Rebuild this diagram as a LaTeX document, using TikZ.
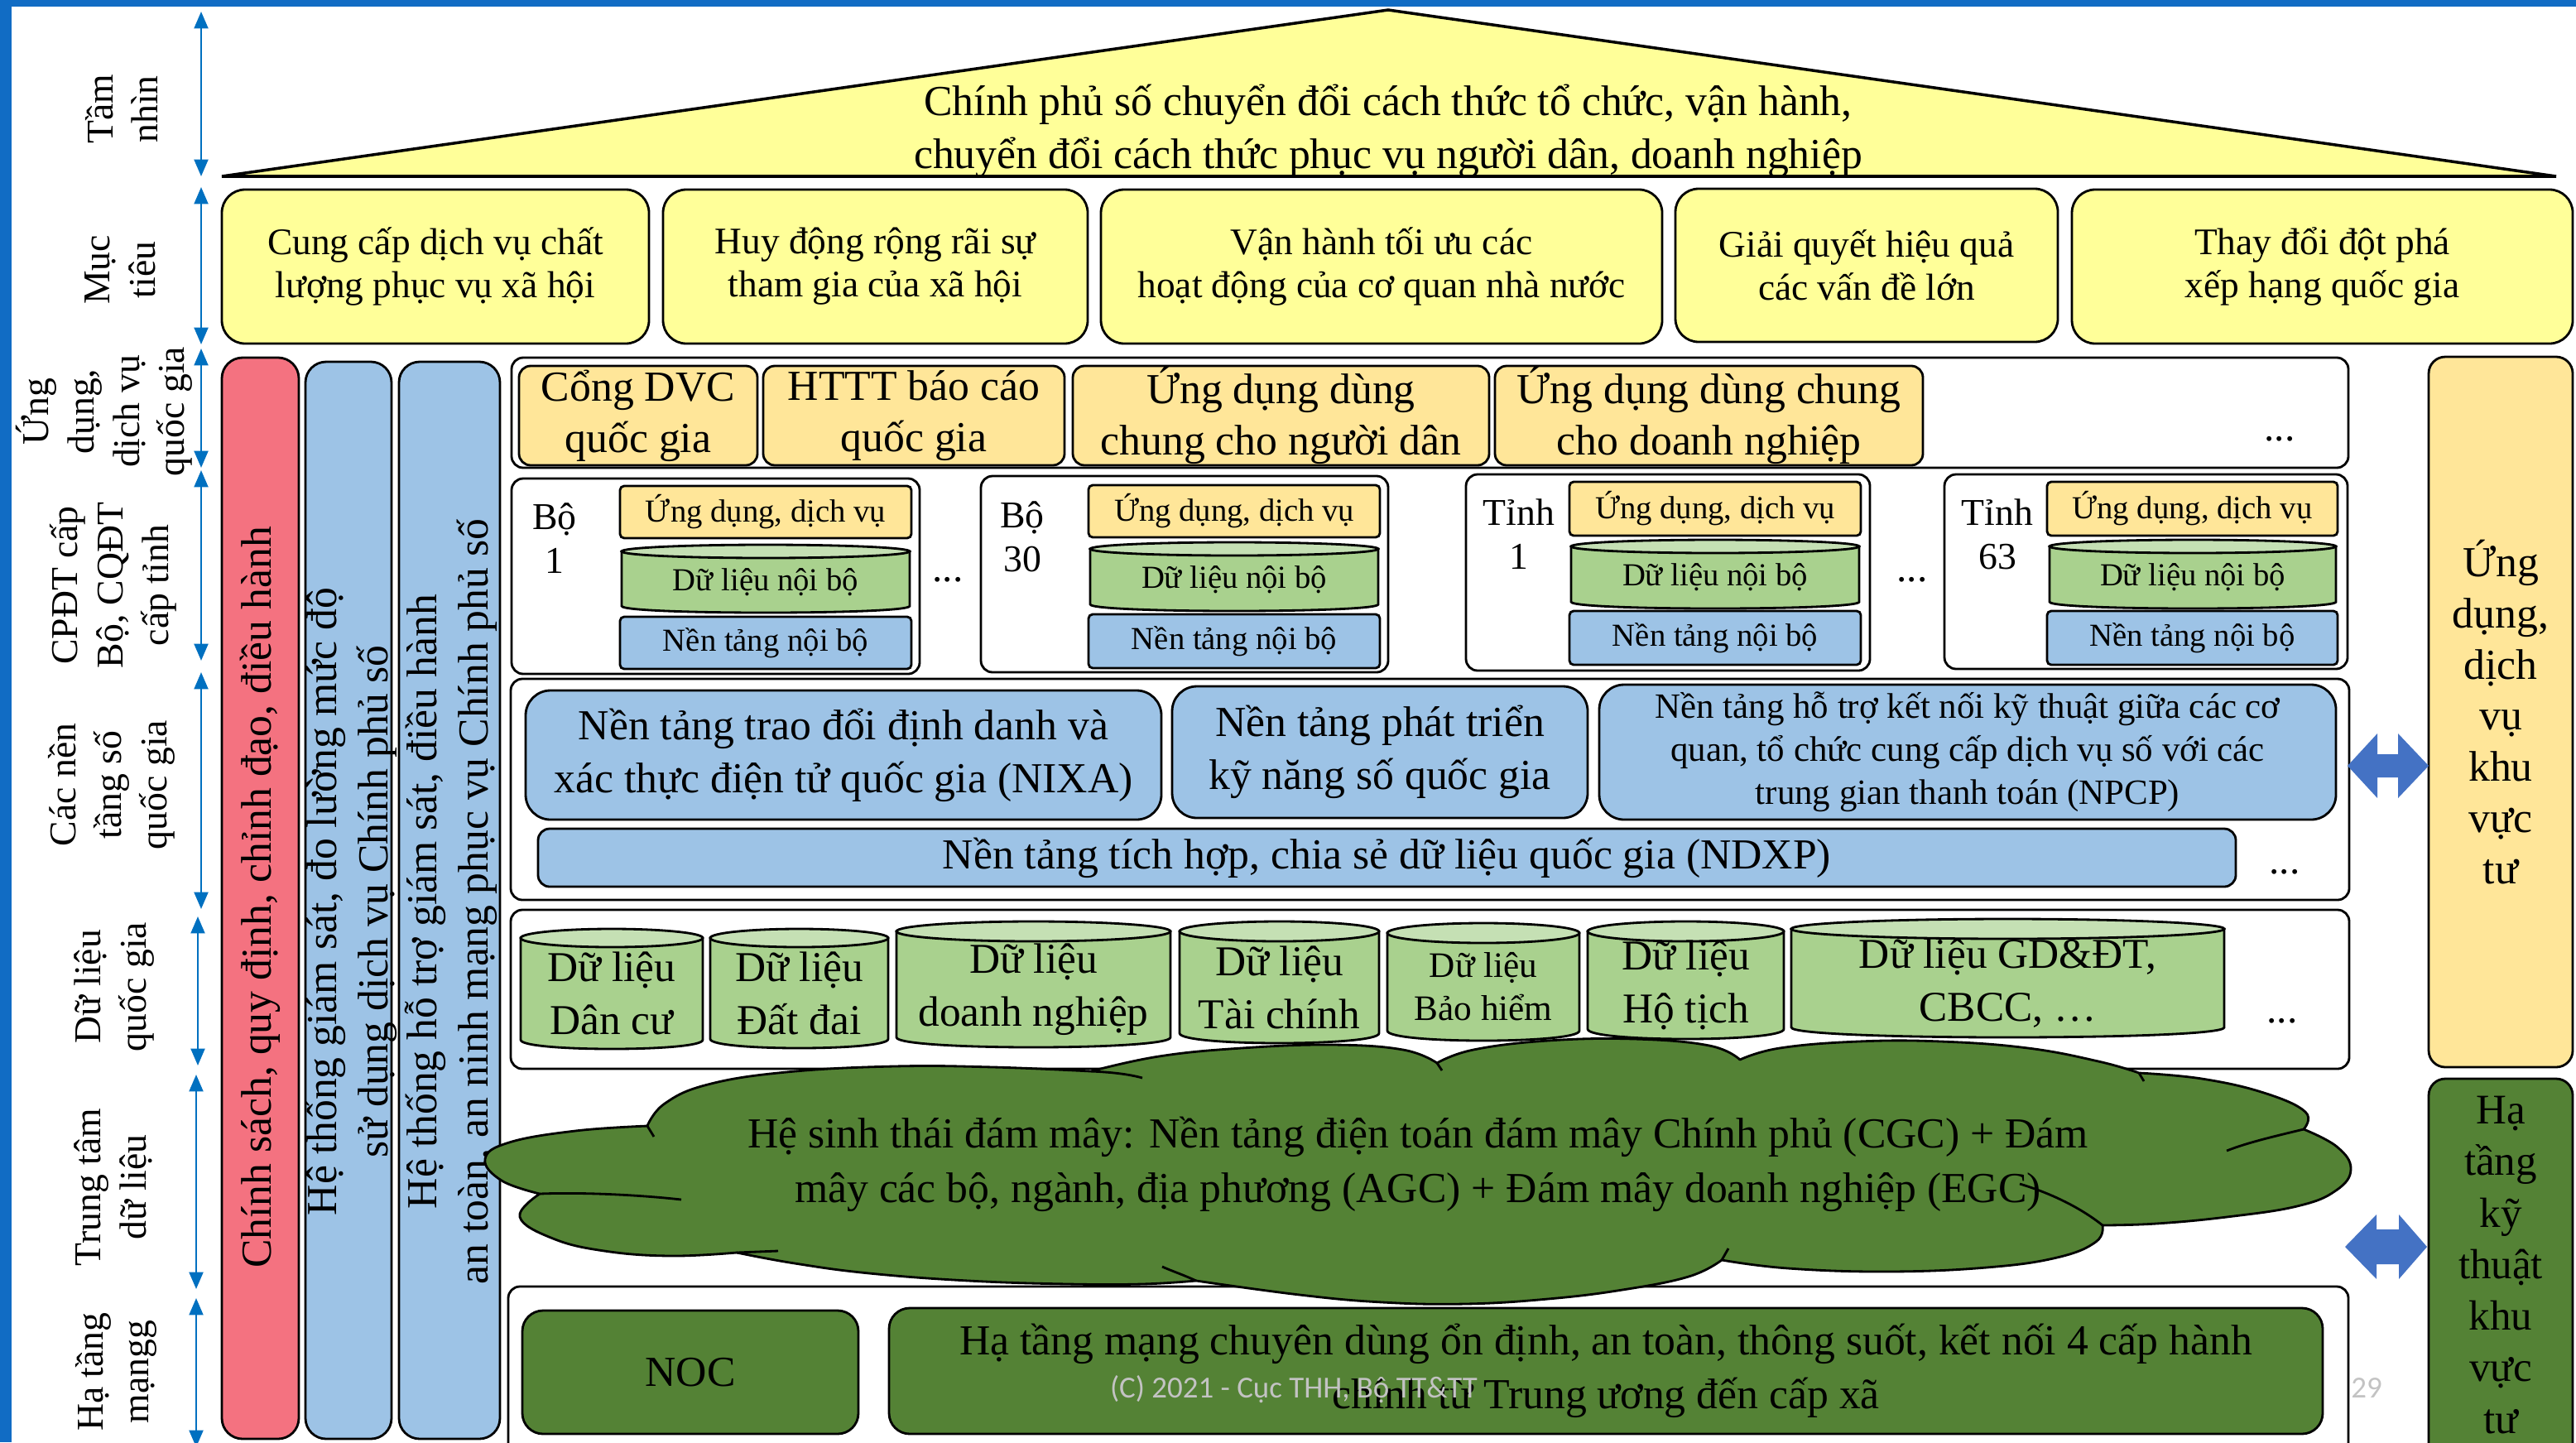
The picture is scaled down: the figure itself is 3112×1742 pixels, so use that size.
\documentclass[tikz,border=0pt]{standalone}
\usepackage{fontspec}
\setmainfont{Liberation Serif}
\newfontfamily\wmfont{Carlito}
\usetikzlibrary{arrows.meta}
\definecolor{frameblue}{RGB}{17,108,196}
\definecolor{arrowblue}{RGB}{0,112,192}
\definecolor{visionyellow}{RGB}{255,255,153}
\definecolor{appyellow}{RGB}{255,230,153}
\definecolor{policyred}{RGB}{244,114,128}
\definecolor{platblue}{RGB}{157,195,230}
\definecolor{datagreen}{RGB}{169,209,142}
\definecolor{datatop}{RGB}{197,224,180}
\definecolor{infragreen}{RGB}{84,130,53}
\definecolor{linkblue}{RGB}{68,114,196}
\definecolor{markgray}{RGB}{195,195,195}

\newcommand\fs[2]{\fontsize{#1}{#2}\selectfont}
% box node from its corner coordinates: name, style, x1, y1, x2, y2, text
\newcommand\boxnode[7]{\node[#2, minimum width={(#5-#3)*0.01cm}, minimum height={(#6-#4)*0.01cm}] (#1) at ({(#3+#5)/2},{(#4+#6)/2}) {#7};}
% database cylinder: name, x1, y1, x2, y2, end radius, font, text
\newcommand\cylnode[8]{%
  \path[cylbody] (#2,{#3+#6}) -- (#2,{#5-#6}) .. controls (#2,{#5+#6/3}) and (#4,{#5+#6/3}) .. (#4,{#5-#6}) -- (#4,{#3+#6}) -- cycle;
  \path[cyltop] ({(#2+#4)/2},{#3+#6}) ellipse [x radius={(#4-#2)/2}, y radius=#6];
  \node[font=#7, align=center, inner sep=0pt] (#1) at ({(#2+#4)/2},{(#3+#6+#5)/2}) {#8};}

\begin{document}
\begin{tikzpicture}[x=0.01cm, y=-0.01cm,
  sidearrow/.style={draw=arrowblue, line width=0.7pt, arrows={Triangle[width=4.8pt,length=5.8pt]-Triangle[width=4.8pt,length=5.8pt]}},
  sidelabel/.style={rotate=90, align=center, font=\fs{13}{15.6}, inner sep=0pt},
  house/.style={fill=visionyellow, draw=black, line width=1pt, line join=miter},
  rbox/.style={draw=black, line width=0.8pt, inner sep=0pt, outer sep=0pt, align=center},
  goal/.style={rbox, fill=visionyellow, rounded corners=0.28cm, font=\fs{12.9}{14.8}},
  panel/.style={rbox, fill=white, rounded corners=0.14cm},
  appbox/.style={rbox, fill=appyellow, rounded corners=0.14cm, font=\fs{14.7}{17.6}},
  smallapp/.style={rbox, fill=appyellow, rounded corners=0.05cm, font=\fs{11}{13}},
  smallplat/.style={rbox, fill=platblue, rounded corners=0.05cm, font=\fs{11}{13}},
  platbox/.style={rbox, fill=platblue, rounded corners=0.3cm, font=\fs{14.7}{18.2}},
  netbox/.style={rbox, fill=infragreen, rounded corners=0.25cm, font=\fs{14.7}{18.5}},
  redbar/.style={rbox, fill=policyred, rounded corners=0.25cm},
  bluebar/.style={rbox, fill=platblue, rounded corners=0.25cm},
  bartext/.style={rotate=90, align=center, inner sep=0pt, font=\fs{14.7}{17.6}},
  unitlabel/.style={align=center, inner sep=0pt, font=\fs{13}{15}},
  ellip/.style={inner sep=0pt, font=\fs{14}{16}},
  cylbody/.style={fill=datagreen, draw=black, line width=0.8pt},
  cyltop/.style={fill=datatop, draw=black, line width=0.8pt},
  cloudfill/.style={fill=infragreen, draw=black, line width=0.8pt, line join=round},
  cloudline/.style={draw=black, line width=0.8pt},
  dblarrow/.style={fill=linkblue},
  wmark/.style={font=\wmfont\fs{10.5}{12}, text=markgray, inner sep=0pt}]

\useasboundingbox (0,0) rectangle (3112,1742);
\clip (0,0) rectangle (3112,1742);

% slide frame
\fill[frameblue] (0,0) rectangle (3112,8);
\fill[frameblue] (0,0) rectangle (14,1742);

% layer arrows on the left
\foreach \xa/\ta/\ba [count=\i] in {243/14/213, 243/226/416, 243/421/565, 243/568/798, 243/812/1098, 239/1107/1287, 237/1298/1557, 237/1568/1748}{
  \coordinate (ar\i t) at (\xa,\ta);
  \coordinate (ar\i b) at (\xa,\ba);
  \draw[sidearrow] (ar\i t) -- (ar\i b);
}

% layer names
\node[sidelabel] (lVision) at (147,132) {Tầm\\nhìn};
\node[sidelabel] (lGoal) at (145,326) {Mục\\tiêu};
\node[sidelabel] (lNatApp) at (126,497) {Ứng\\dụng,\\dịch vụ\\quốc gia};
\node[sidelabel] (lMin) at (137,707) {CPĐT cấp\\Bộ, CQĐT\\cấp tỉnh};
\node[sidelabel] (lPlat) at (135,948) {Các nền\\tầng số\\quốc gia};
\node[sidelabel] (lData) at (138,1192) {Dữ liệu\\quốc gia};
\node[sidelabel] (lDC) at (137,1434) {Trung tâm\\dữ liệu};
\node[sidelabel] (lNet) at (140,1657) {Hạ tầng\\mạngg};

% vision roof
\coordinate (hLeft) at (268,213);
\coordinate (hApex) at (1677,12);
\coordinate (hRight) at (3088,213);
\path[house] (hLeft) -- (hApex) -- (hRight) -- cycle;
\node[align=center, inner sep=0pt, font=\fs{14.7}{18.2}] (vision) at (1677,158)
  {Chính phủ số chuyển đổi cách thức tổ chức, vận hành,\\chuyển đổi cách thức phục vụ người dân, doanh nghiệp};

% goals
\boxnode{g1}{goal}{268}{229}{784}{415}{Cung cấp dịch vụ chất\\lượng phục vụ xã hội}
\boxnode{g2}{goal}{801}{229}{1314}{415}{Huy động rộng rãi sự\\tham gia của xã hội}
\boxnode{g3}{goal}{1330}{229}{2008}{415}{Vận hành tối ưu các\\hoạt động của cơ quan nhà nước}
\boxnode{g4}{goal}{2024}{228}{2486}{413}{Giải quyết hiệu quả\\các vấn đề lớn}
\boxnode{g5}{goal}{2503}{229}{3108}{415}{Thay đổi đột phá\\xếp hạng quốc gia}

% cross-cutting pillars
\boxnode{polBar}{redbar}{268}{432}{361}{1738}{}
\boxnode{monBar}{bluebar}{369}{437}{473}{1738}{}
\boxnode{supBar}{bluebar}{482}{437}{604}{1738}{}
\node[bartext] (polText) at (314,1084) {Chính sách, quy định, chỉnh đạo, điều hành};
\node[bartext] (monText) at (424,1089) {Hệ thống giám sát, đo lường mức độ\\sử dụng dịch vụ Chính phủ số};
\node[bartext] (supText) at (545,1089) {Hệ thống hỗ trợ giám sát, điều hành\\an toàn, an ninh mạng phục vụ Chính phủ số};

% national applications
\boxnode{pApp}{panel}{618}{432}{2837}{565}{}
\boxnode{a1}{appbox}{627}{442}{915}{562}{Cổng DVC\\quốc gia}
\boxnode{a2}{appbox}{922}{442}{1286}{562}{HTTT báo cáo\\quốc gia}
\boxnode{a3}{appbox}{1296}{442}{1799}{562}{Ứng dụng dùng\\chung cho người dân}
\boxnode{a4}{appbox}{1806}{442}{2323}{562}{Ứng dụng dùng chung\\cho doanh nghiệp}
\node[ellip] (aMore) at (2754,530) {...};

% ministries and provinces
\boxnode{s1}{panel}{618}{578}{1111}{814}{}
\node[unitlabel] (s1Name) at (670,650) {Bộ\\1};
\boxnode{s1App}{smallapp}{749}{587}{1101}{650}{Ứng dụng, dịch vụ}
\cylnode{s1Data}{751}{658}{1099}{740}{8}{\fs{11}{13}}{Dữ liệu nội bộ}
\boxnode{s1Plat}{smallplat}{749}{745}{1101}{808}{Nền tảng nội bộ}
\node[ellip] (sMoreA) at (1145,700) {...};

\boxnode{s2}{panel}{1185}{575}{1677}{812}{}
\node[unitlabel] (s2Name) at (1235,648) {Bộ\\30};
\boxnode{s2App}{smallapp}{1315}{586}{1667}{649}{Ứng dụng, dịch vụ}
\cylnode{s2Data}{1317}{655}{1665}{738}{8}{\fs{11}{13}}{Dữ liệu nội bộ}
\boxnode{s2Plat}{smallplat}{1315}{742}{1667}{807}{Nền tảng nội bộ}

\boxnode{s3}{panel}{1771}{573}{2259}{810}{}
\node[unitlabel] (s3Name) at (1835,645) {Tỉnh\\1};
\boxnode{s3App}{smallapp}{1896}{582}{2248}{647}{Ứng dụng, dịch vụ}
\cylnode{s3Data}{1898}{652}{2246}{735}{8}{\fs{11}{13}}{Dữ liệu nội bộ}
\boxnode{s3Plat}{smallplat}{1896}{738}{2248}{803}{Nền tảng nội bộ}
\node[ellip] (sMoreB) at (2310,700) {...};

\boxnode{s4}{panel}{2349}{573}{2836}{808}{}
\node[unitlabel] (s4Name) at (2413,645) {Tỉnh\\63};
\boxnode{s4App}{smallapp}{2473}{582}{2824}{647}{Ứng dụng, dịch vụ}
\cylnode{s4Data}{2476}{652}{2822}{735}{8}{\fs{11}{13}}{Dữ liệu nội bộ}
\boxnode{s4Plat}{smallplat}{2473}{738}{2824}{803}{Nền tảng nội bộ}

% national platforms
\boxnode{pPlat}{panel}{617}{820}{2838}{1087}{}
\boxnode{nixa}{platbox}{635}{834}{1403}{990}{Nền tảng trao đổi định danh và\\xác thực điện tử quốc gia (NIXA)}
\boxnode{skill}{platbox}{1416}{829}{1918}{988}{Nền tảng phát triển\\kỹ năng số quốc gia}
\boxnode{npcp}{platbox, font=\fs{12.2}{14.8}}{1932}{827}{2822}{990}{Nền tảng hỗ trợ kết nối kỹ thuật giữa các cơ\\quan, tổ chức cung cấp dịch vụ số với các\\trung gian thanh toán (NPCP)}
\boxnode{ndxp}{platbox, rounded corners=0.14cm}{650}{1001}{2701}{1071}{Nền tảng tích hợp, chia sẻ dữ liệu quốc gia (NDXP)}
\node[ellip] (pMore) at (2760,1053) {...};

% national databases
\boxnode{pData}{panel}{617}{1099}{2838}{1291}{}
\cylnode{d1}{629}{1122}{849}{1267}{11}{\fs{14.6}{18.2}}{Dữ liệu\\Dân cư}
\cylnode{d2}{858}{1122}{1073}{1266}{11}{\fs{14.6}{18.2}}{Dữ liệu\\Đất đai}
\cylnode{d3}{1083}{1113}{1414}{1265}{12}{\fs{14.6}{18.2}}{Dữ liệu\\doanh nghiệp}
\cylnode{d4}{1425}{1113}{1666}{1260}{12}{\fs{14.6}{18.2}}{Dữ liệu\\Tài chính}
\cylnode{d5}{1676}{1115}{1908}{1257}{12}{\fs{12.3}{14.8}}{Dữ liệu\\Bảo hiểm}
\cylnode{d6}{1918}{1113}{2155}{1255}{12}{\fs{14.6}{18.2}}{Dữ liệu\\Hộ tịch}
\cylnode{d7}{2164}{1110}{2687}{1253}{12}{\fs{14.6}{18.2}}{Dữ liệu GD\&ĐT,\\CBCC, …}
\node[ellip] (dMore) at (2757,1233) {...};

% network infrastructure
\boxnode{pNet}{panel}{614}{1554}{2837}{1800}{}
\boxnode{noc}{netbox}{631}{1583}{1037}{1732}{NOC}
\boxnode{net}{netbox}{1074}{1580}{2806}{1732}{Hạ tầng mạng chuyên dùng ổn định, an toàn, thông suốt, kết nối 4 cấp hành\\chính từ Trung ương đến cấp xã}

% cloud ecosystem
\path[cloudfill]
  plot[smooth, tension=0.7] coordinates {(652,1442) (606,1426) (586,1400) (615,1380) (695,1366) (782,1360)}
  -- plot[smooth, tension=0.7] coordinates {(782,1360) (803,1333) (855,1310) (950,1295) (1080,1288) (1200,1289) (1318,1294)}
  -- plot[smooth, tension=0.7] coordinates {(1318,1294) (1400,1276) (1500,1266) (1610,1262) (1695,1268) (1736,1284)}
  -- plot[smooth, tension=0.7] coordinates {(1736,1284) (1780,1268) (1870,1257) (1975,1255) (2065,1263) (2102,1280)}
  -- plot[smooth, tension=0.7] coordinates {(2102,1280) (2150,1266) (2245,1258) (2345,1258) (2450,1266) (2535,1282) (2584,1296)}
  -- plot[smooth, tension=0.7] coordinates {(2584,1296) (2660,1303) (2735,1320) (2785,1343) (2783,1364)}
  -- plot[smooth, tension=0.7] coordinates {(2783,1364) (2823,1385) (2840,1412) (2822,1438) (2775,1457) (2690,1470) (2605,1478) (2540,1480)}
  -- plot[smooth, tension=0.7] coordinates {(2540,1480) (2532,1500) (2485,1519) (2400,1531) (2280,1536) (2160,1532) (2080,1522)}
  -- plot[smooth, tension=0.7] coordinates {(2080,1522) (2040,1542) (1960,1558) (1870,1569) (1770,1575) (1670,1573) (1570,1564) (1445,1547)}
  -- plot[smooth, tension=0.7] coordinates {(1445,1547) (1380,1551) (1290,1551) (1170,1547) (1050,1538) (960,1526) (890,1513)}
  -- plot[smooth, tension=0.7] coordinates {(890,1513) (810,1517) (730,1511) (668,1496) (628,1470) (652,1442)}
  -- cycle;
\draw[cloudline] (652,1442) .. controls (700,1440) and (770,1443) .. (823,1449);
\draw[cloudline] (782,1360) -- (790,1373);
\draw[cloudline] (1318,1294) .. controls (1340,1295) and (1362,1297) .. (1380,1302);
\draw[cloudline] (1736,1284) -- (1742,1293);
\draw[cloudline] (2584,1296) -- (2590,1306);
\draw[cloudline] (2783,1364) .. controls (2750,1372) and (2715,1380) .. (2690,1390);
\draw[cloudline] (2540,1480) .. controls (2515,1460) and (2480,1442) .. (2440,1430);
\draw[cloudline] (2080,1522) -- (2088,1508);
\draw[cloudline] (1445,1547) .. controls (1430,1540) and (1415,1535) .. (1404,1530);
\draw[cloudline] (890,1513) -- (940,1511);
\node[align=center, inner sep=0pt, font=\fs{14.7}{18.8}] (cloudText) at (1713,1406)
  {Hệ sinh thái đám mây: Nền tảng điện toán đám mây Chính phủ (CGC) + Đám\\mây các bộ, ngành, địa phương (AGC) + Đám mây doanh nghiệp (EGC)};

% private sector
\boxnode{priv}{appbox, rounded corners=0.2cm}{2934}{431}{3108}{1289}{Ứng\\dụng,\\dịch\\vụ\\khu\\vực\\tư}
\boxnode{privInfra}{netbox, rounded corners=0.2cm}{2934}{1303}{3108}{1800}{}
\node[align=center, inner sep=0pt, font=\fs{14.5}{17.7}] (privInfraText) at (3021,1528) {Hạ\\tầng\\kỹ\\thuật\\khu\\vực\\tư};

% links to the private sector
\path[dblarrow] (2836,925) -- (2872,886) -- (2872,911) -- (2897,911) -- (2897,886) -- (2934,925)
  -- (2897,964) -- (2897,939) -- (2872,939) -- (2872,964) -- cycle;
\path[dblarrow] (2833,1506) -- (2871,1467) -- (2871,1485) -- (2898,1485) -- (2898,1467) -- (2932,1506)
  -- (2898,1545) -- (2898,1527) -- (2871,1527) -- (2871,1545) -- cycle;

% footer
\node[wmark] (copyright) at (1563,1678) {(C) 2021 - Cục THH, Bộ TT\&TT};
\node[wmark] (pageNo) at (2859,1676) {29};
\end{tikzpicture}
\end{document}
